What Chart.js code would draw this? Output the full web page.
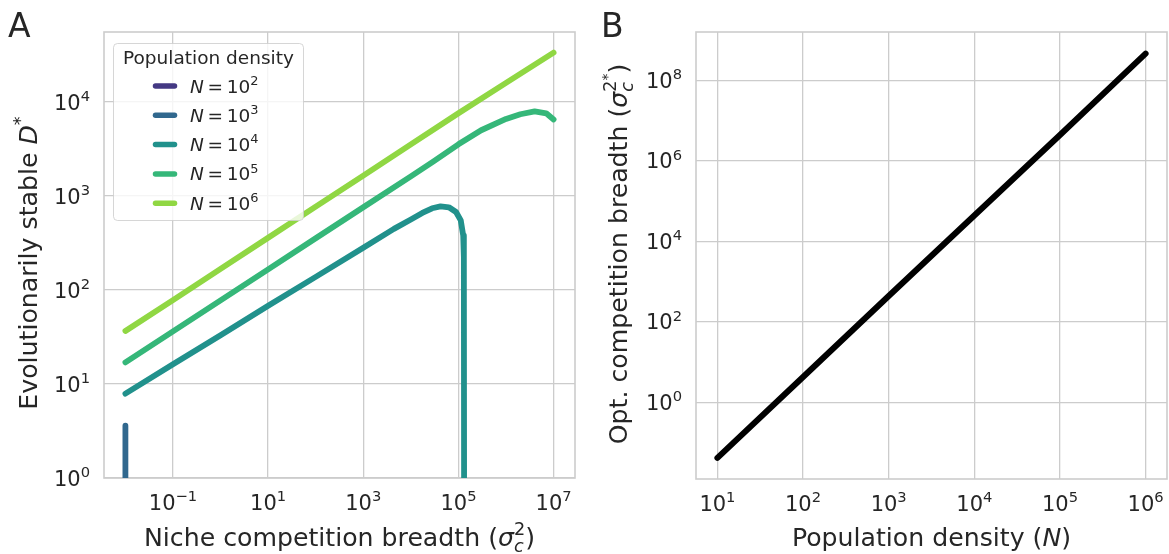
<!DOCTYPE html>
<html lang="en">

<head>
    <title>Evolutionarily stable D* and optimal competition breadth</title>
    <script src="https://cdn.jsdelivr.net/npm/chart.js"></script>
    <style>
        body { margin: 0; background: #fff; }
        canvas { position: absolute; top: 0; }
        #chartA { left: 0; }
        #chartB { left: 590px; }
    </style>
</head>

<body>
    <canvas id="chartA" width="590" height="554"></canvas>
    <canvas id="chartB" width="579" height="554"></canvas>

    <script>
        // ---- Panel A: evolutionarily stable D* vs niche competition breadth, one curve per N ----
        const densityExponents = [2, 3, 4, 5, 6];
        const densityColors = ['#443983', '#31688e', '#21918c', '#35b779', '#90d743'];

        const sigmaN2 = [];
        const dN2 = [];

        const sigmaN3 = [0.01, 0.01];
        const dN3 = [3.6, 0.1];

        const sigmaN4 = [0.01, 0.1, 1, 10, 100, 1000, 4400, 1e4, 1.74e4, 2.8e4, 4.2e4, 6.3e4, 8.9e4, 1.12e5, 1.26e5, 1.3e5, 1.32e5];
        const dN4 = [7.9, 16.2, 33, 68, 138, 282, 447, 562, 661, 741, 776, 759, 676, 550, 380, 224, 0.1];

        const sigmaN5 = [0.01, 0.1, 1, 10, 100, 1000, 1e4, 3e4, 1e5, 3e5, 1e6, 2e6, 4e6, 7e6, 1e7];
        const dN5 = [17, 36.3, 77.6, 166, 355, 759, 1620, 2340, 3550, 5010, 6610, 7410, 7940, 7590, 6530];

        const sigmaN6 = [0.01, 0.1, 1, 10, 100, 1000, 1e4, 1e5, 1e6, 1e7];
        const dN6 = [36.6, 78, 168, 360, 770, 1650, 3550, 7600, 16000, 33500];

        // ---- Panel B: optimal competition breadth vs population density ----
        const popDensity = [10, 100, 1000, 1e4, 1e5, 1e6];
        const optBreadth = [0.042, 4.3, 440, 4.4e4, 4.4e6, 4.6e8];

        // tick positions
        const xTicksA = [1e-1, 1e1, 1e3, 1e5, 1e7];
        const yTicksA = [1, 10, 100, 1e3, 1e4];
        const xTicksB = [10, 100, 1e3, 1e4, 1e5, 1e6];
        const yTicksB = [1, 100, 1e4, 1e6, 1e8];

        const FONT = '"DejaVu Sans", sans-serif';
        const INK = '#262626';
        const TICK = 21;
        const TITLE = 25.2;

        function fontOf(size, italic) {
            return (italic ? 'italic ' : '') + size + 'px ' + FONT;
        }

        // draw a row of text runs: lvl 1 = superscript, -1 = subscript, 2 = higher superscript
        // a run with stack:true starts where the previous run started (sub + sup pair)
        function drawRich(ctx, parts, x, y, size, align, angle) {
            const runs = parts.map(p => {
                const lvl = p.lvl || 0;
                const s = lvl === 0 ? size : lvl === 2 ? size * 0.55 : size * 0.7;
                const dy = lvl === 1 ? -0.42 * size : lvl === -1 ? 0.22 * size : lvl === 2 ? -0.6 * size : 0;
                ctx.font = fontOf(s, p.it);
                return { t: p.t, it: p.it, stack: p.stack, s: s, dy: dy, w: ctx.measureText(p.t).width };
            });
            let prevStart = 0, end = 0;
            runs.forEach(r => {
                if (r.stack) { r.x = prevStart; end = Math.max(end, prevStart + r.w); }
                else { r.x = end; prevStart = end; end += r.w; }
            });
            const x0 = align === 'center' ? -end / 2 : align === 'right' ? -end : 0;
            ctx.save();
            ctx.translate(x, y);
            if (angle) ctx.rotate(angle);
            ctx.fillStyle = INK;
            ctx.textAlign = 'left';
            ctx.textBaseline = 'alphabetic';
            runs.forEach(r => {
                ctx.font = fontOf(r.s, r.it);
                ctx.fillText(r.t, x0 + r.x, r.dy);
            });
            ctx.restore();
        }

        function powerLabel(v) {
            const e = Math.round(Math.log10(v));
            return [{ t: '10' }, { t: String(e).replace('-', '\u2212'), lvl: 1 }];
        }

        function drawLegend(ctx) {
            const x = 113.5, y = 43.5, w = 190, h = 177, r = 4;
            ctx.save();
            ctx.beginPath();
            ctx.moveTo(x + r, y);
            ctx.arcTo(x + w, y, x + w, y + h, r);
            ctx.arcTo(x + w, y + h, x, y + h, r);
            ctx.arcTo(x, y + h, x, y, r);
            ctx.arcTo(x, y, x + w, y, r);
            ctx.closePath();
            ctx.fillStyle = 'rgba(255,255,255,0.8)';
            ctx.fill();
            ctx.strokeStyle = 'rgba(204,204,204,0.8)';
            ctx.lineWidth = 1;
            ctx.stroke();

            ctx.fillStyle = INK;
            ctx.font = fontOf(18.5);
            ctx.textAlign = 'center';
            ctx.fillText('Population density', x + w / 2, 64);

            densityExponents.forEach((e, i) => {
                const cy = 86 + i * 29.3;
                ctx.strokeStyle = densityColors[i];
                ctx.lineWidth = 5.5;
                ctx.lineCap = 'round';
                ctx.beginPath();
                ctx.moveTo(155.5, cy);
                ctx.lineTo(174.5, cy);
                ctx.stroke();
                drawRich(ctx, [{ t: 'N', it: true }, { t: '\u2009=\u2009' }, { t: '10' }, { t: String(e), lvl: 1 }],
                    190, cy + 6.5, 18.5, 'left');
            });
            ctx.restore();
        }

        const sigmaC = [{ t: 'σ', it: true }, { t: 'c', it: true, lvl: -1 }, { t: '2', lvl: 1, stack: true }];

        const decorConfig = {
            chartA: {
                letter: 'A', letterX: 8,
                xTicks: xTicksA, yTicks: yTicksA,
                xTitle: [{ t: 'Niche competition breadth (' }].concat(sigmaC, [{ t: ')' }]),
                yTitle: [{ t: 'Evolutionarily stable ' }, { t: 'D', it: true }, { t: '*', lvl: 1 }],
                yTitleY: 263,
                legend: true
            },
            chartB: {
                letter: 'B', letterX: 11,
                xTicks: xTicksB, yTicks: yTicksB,
                xTitle: [{ t: 'Population density (' }, { t: 'N', it: true }, { t: ')' }],
                yTitle: [{ t: 'Opt. competition breadth (' }].concat(sigmaC, [{ t: '*', lvl: 2 }, { t: ')' }]),
                yTitleY: 254,
                legend: false
            }
        };

        const decor = {
            id: 'decor',
            beforeDatasetsDraw(chart) {
                const a = chart.chartArea, ctx = chart.ctx;
                ctx.save();
                ctx.strokeStyle = '#cccccc';
                ctx.lineWidth = 1.6;
                ctx.strokeRect(a.left, a.top, a.right - a.left, a.bottom - a.top);
                ctx.restore();
            },
            afterDatasetsDraw(chart) {
                if (decorConfig[chart.canvas.id].legend) drawLegend(chart.ctx);
            },
            afterDraw(chart) {
                const o = decorConfig[chart.canvas.id];
                const ctx = chart.ctx, a = chart.chartArea;
                o.xTicks.forEach(v => drawRich(ctx, powerLabel(v), chart.scales.x.getPixelForValue(v), a.bottom + 31.5, TICK, 'center'));
                o.yTicks.forEach(v => drawRich(ctx, powerLabel(v), a.left - 14, chart.scales.y.getPixelForValue(v) + 7.5, TICK, 'right'));
                drawRich(ctx, o.xTitle, (a.left + a.right) / 2, 546, TITLE, 'center');
                drawRich(ctx, o.yTitle, 37, o.yTitleY, TITLE, 'center', -Math.PI / 2);
                ctx.save();
                ctx.fillStyle = INK;
                ctx.font = fontOf(33);
                ctx.textAlign = 'left';
                ctx.fillText(o.letter, o.letterX, 37);
                ctx.restore();
            }
        };

        function toPoints(xs, ys) {
            return xs.map((x, i) => ({ x: x, y: ys[i] }));
        }

        function logAxis(min, max, ticks) {
            return {
                type: 'logarithmic',
                min: min,
                max: max,
                afterBuildTicks: (scale) => { scale.ticks = ticks.map(v => ({ value: v })); },
                ticks: { display: false },
                grid: { color: '#cccccc', lineWidth: 1.3, drawTicks: false },
                border: { display: false },
                title: { display: false }
            };
        }

        const lineStyle = {
            pointRadius: 0,
            borderCapStyle: 'round',
            borderJoinStyle: 'round',
            clip: 0,
            tension: 0
        };

        const seriesA = [[sigmaN2, dN2], [sigmaN3, dN3], [sigmaN4, dN4], [sigmaN5, dN5], [sigmaN6, dN6]];

        new Chart(document.getElementById('chartA'), {
            type: 'line',
            data: {
                datasets: seriesA.map((s, i) => Object.assign({
                    label: 'N = 10^' + densityExponents[i],
                    data: toPoints(s[0], s[1]),
                    borderColor: densityColors[i],
                    borderWidth: 5.8,
                    order: densityExponents.length - i
                }, lineStyle))
            },
            options: {
                responsive: false,
                animation: false,
                layout: { padding: { left: 104, right: 15, top: 32, bottom: 76 } },
                scales: {
                    x: logAxis(Math.pow(10, -2.45), Math.pow(10, 7.45), xTicksA),
                    y: logAxis(1, Math.pow(10, 4.745), yTicksA)
                },
                plugins: { legend: { display: false }, tooltip: { enabled: false } }
            },
            plugins: [decor]
        });

        new Chart(document.getElementById('chartB'), {
            type: 'line',
            data: {
                datasets: [Object.assign({
                    label: 'Optimal competition breadth',
                    data: toPoints(popDensity, optBreadth),
                    borderColor: '#000000',
                    borderWidth: 6
                }, lineStyle)]
            },
            options: {
                responsive: false,
                animation: false,
                layout: { padding: { left: 106, right: 2, top: 32, bottom: 75 } },
                scales: {
                    x: logAxis(Math.pow(10, 0.75), Math.pow(10, 6.25), xTicksB),
                    y: logAxis(Math.pow(10, -1.9), Math.pow(10, 9.2), yTicksB)
                },
                plugins: { legend: { display: false }, tooltip: { enabled: false } }
            },
            plugins: [decor]
        });
    </script>
</body>

</html>
